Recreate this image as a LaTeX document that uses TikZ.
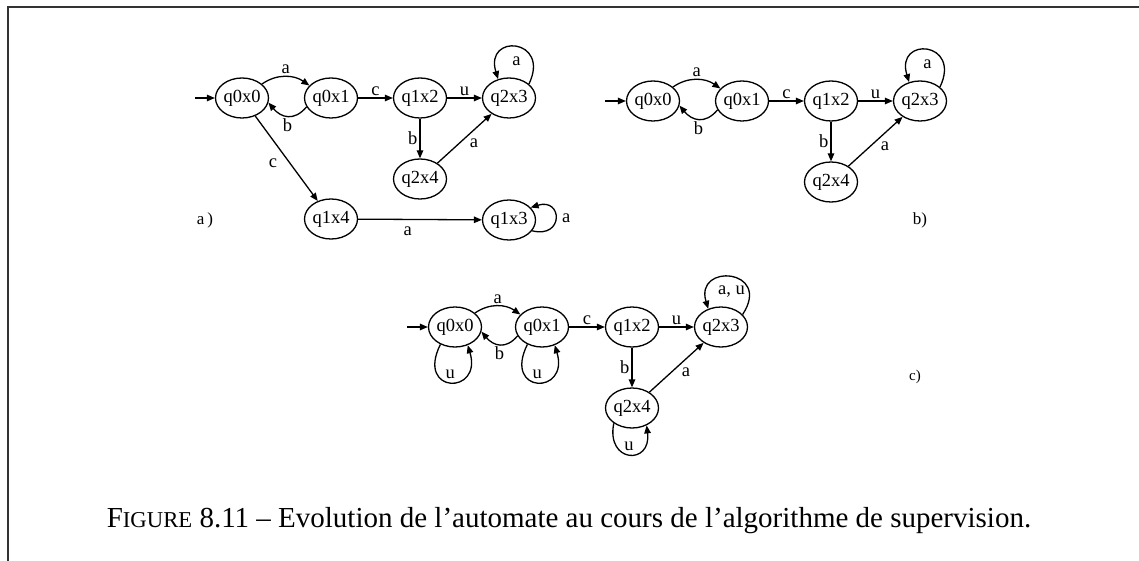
\documentclass[tikz,border=0pt]{standalone}
\usepackage{fontspec}
\setmainfont{Liberation Serif}
\usetikzlibrary{positioning,arrows.meta,shapes.geometric}
\newcommand{\nfont}{\fontsize{18.5}{20}\selectfont}
\tikzset{
  etat/.style={draw,ellipse,line width=1.3pt,minimum width=53pt,minimum height=40pt,inner sep=0pt,font=\nfont},
  arr/.style={line width=1.3pt,-{Triangle[length=8pt,width=6.5pt]}},
  lbl/.style={font=\nfont,inner sep=2pt},
  panel/.style={font=\fontsize{17}{19}\selectfont,inner sep=0pt},
}
\begin{document}
\begin{tikzpicture}[x=1pt,y=-1pt,node distance=89pt]
\useasboundingbox (0,0) rectangle (1139,561);
\draw[line width=1.4pt,black!80] (8,561) -- (8,7) -- (1139,7);

% automate a)
\node[etat] (a00) at (242,98) {q0x0};
\node[etat,right of=a00] (a01) {q0x1};
\node[etat,right of=a01] (a12) {q1x2};
\node[etat,right of=a12] (a23) {q2x3};
\node[etat,below of=a12,node distance=81pt] (a24) {q2x4};
\node[etat,below of=a01,node distance=121pt] (a14) {q1x4};
\node[etat,below of=a23,node distance=122pt] (a13) {q1x3};
\coordinate (a0) at (195,98);
\node[panel] (la) at (205,220) {a\,)};

\draw[arr] (a0) -- (a00);
\draw[arr] (a00.35) to[out=35,in=145] node[lbl,above]{a} (a01.150);
\draw[arr] (a01.200) to[out=-130,in=-50,looseness=1.3] node[lbl,below]{b} (a00.-10);
\draw[arr] (a01) -- node[lbl,above]{c} (a12);
\draw[arr] (a12) -- node[lbl,above]{u} (a23);
\draw[arr] (a12) -- node[lbl,left]{b} (a24);
\draw[arr] (a24) -- node[lbl,pos=.55,below right]{a} (a23);
\draw[arr] (a00) -- node[lbl,pos=.55,left=10pt]{c} (a14);
\draw[arr] (a14) -- node[lbl,pos=.4,below=5pt]{a} (a13);
\draw[arr] (a23.35) .. controls +(22,-46) and +(-14,-46) .. node[lbl,below=7pt]{a} (a23.120);
\draw[arr] (a13.-25) .. controls +(32,8) and +(32,-10) .. node[lbl,right=4pt]{a} (a13.30);

% automate b)
\node[etat] (b00) at (653,101) {q0x0};
\node[etat,right of=b00] (b01) {q0x1};
\node[etat,right of=b01] (b12) {q1x2};
\node[etat,right of=b12] (b23) {q2x3};
\node[etat,below of=b12,node distance=81pt] (b24) {q2x4};
\coordinate (b0) at (605,101);
\node[panel] (lb) at (920,220) {b)};

\draw[arr] (b0) -- (b00);
\draw[arr] (b00.35) to[out=35,in=145] node[lbl,above]{a} (b01.150);
\draw[arr] (b01.200) to[out=-130,in=-50,looseness=1.3] node[lbl,below]{b} (b00.-10);
\draw[arr] (b01) -- node[lbl,above]{c} (b12);
\draw[arr] (b12) -- node[lbl,above]{u} (b23);
\draw[arr] (b12) -- node[lbl,left]{b} (b24);
\draw[arr] (b24) -- node[lbl,pos=.55,below right]{a} (b23);
\draw[arr] (b23.35) .. controls +(22,-46) and +(-14,-46) .. node[lbl,below=7pt]{a} (b23.120);

% automate c)
\node[etat] (c00) at (455,327) {q0x0};
\node[etat,right of=c00,node distance=87pt] (c01) {q0x1};
\node[etat,right of=c01,node distance=90pt] (c12) {q1x2};
\node[etat,right of=c12] (c23) {q2x3};
\node[etat,below of=c12,node distance=81pt] (c24) {q2x4};
\coordinate (c0) at (407,327);
\node[panel,font=\fontsize{15}{17}\selectfont] (lc) at (915,377) {c)};

\draw[arr] (c0) -- (c00);
\draw[arr] (c00.35) to[out=35,in=145] node[lbl,above]{a} (c01.150);
\draw[arr] (c01.200) to[out=-130,in=-50,looseness=1.3] node[lbl,below]{b} (c00.-10);
\draw[arr] (c01) -- node[lbl,above]{c} (c12);
\draw[arr] (c12) -- node[lbl,above]{u} (c23);
\draw[arr] (c12) -- node[lbl,left]{b} (c24);
\draw[arr] (c24) -- node[lbl,pos=.55,below right]{a} (c23);
\draw[arr] (c00.-130) .. controls +(-25,50) and +(15,50) .. node[lbl,above=1pt]{u} (c00.-55);
\draw[arr] (c01.-130) .. controls +(-25,50) and +(15,50) .. node[lbl,above=1pt]{u} (c01.-55);
\draw[arr] (c24.-140) .. controls +(-8,40) and +(5,40) .. node[lbl,above=1pt]{u} (c24.-50);
\draw[arr] (c23.30) .. controls +(30,-46) and +(-14,-46) .. node[lbl,below=6pt]{a, u} (c23.125);

% legende
\node[font=\fontsize{29}{32}\selectfont] (cap) at (569,521)
{F{\fontsize{22.7}{25}\selectfont IGURE} 8.11 – Evolution de l’automate au cours de l’algorithme de supervision.};
\end{tikzpicture}
\end{document}
